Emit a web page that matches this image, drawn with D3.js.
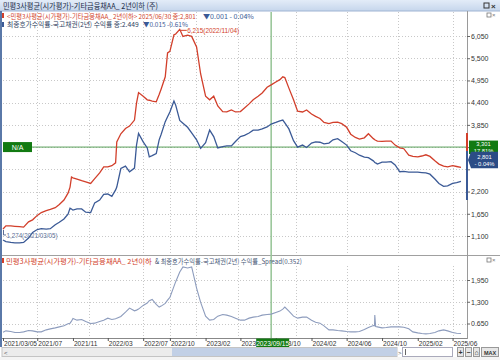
<!DOCTYPE html>
<html><head><meta charset="utf-8">
<script src="https://cdn.jsdelivr.net/npm/d3@7"></script>
<style>
html,body{margin:0;padding:0;background:#fff;}
svg{display:block;}
text{font-family:"Liberation Sans","Noto Sans CJK KR",sans-serif;}
.kr{font-family:"Noto Sans CJK KR","Liberation Sans",sans-serif;}
</style></head><body>
<svg id="c" width="500" height="360"></svg>
<script>
const dates = ["2021-03-05","2021-03-15","2021-04-01","2021-04-15","2021-05-01","2021-05-15","2021-06-01","2021-06-15","2021-07-01","2021-07-15","2021-08-01","2021-08-15","2021-09-01","2021-09-15","2021-10-01","2021-10-15","2021-10-22","2021-10-27","2021-11-01","2021-11-15","2021-12-01","2021-12-15",
"2022-01-01","2022-01-15","2022-02-01","2022-02-15","2022-03-01","2022-03-15","2022-03-28","2022-04-01","2022-04-15","2022-05-01","2022-05-15","2022-06-01","2022-06-08","2022-06-15","2022-07-01","2022-07-15","2022-07-22","2022-08-01","2022-08-15","2022-08-25","2022-09-01","2022-09-15","2022-09-23","2022-10-01","2022-10-15","2022-10-21","2022-11-04","2022-11-15","2022-12-01","2022-12-15",
"2023-01-01","2023-01-15","2023-02-01","2023-02-15","2023-03-01","2023-03-15","2023-04-01","2023-04-15","2023-05-01","2023-05-15","2023-06-01","2023-06-15","2023-07-01","2023-07-15","2023-08-01","2023-08-15","2023-09-01","2023-09-15","2023-10-01","2023-10-15","2023-10-25","2023-11-01","2023-11-15","2023-12-01","2023-12-15",
"2024-01-01","2024-01-15","2024-02-01","2024-02-15","2024-03-01","2024-03-15","2024-04-01","2024-04-15","2024-05-01","2024-05-15","2024-06-01","2024-06-15","2024-07-01","2024-07-15","2024-08-01","2024-08-15","2024-09-01","2024-09-05","2024-09-06","2024-09-09","2024-09-15","2024-10-01","2024-10-15","2024-11-01","2024-11-15","2024-12-01","2024-12-15",
"2025-01-01","2025-01-15","2025-02-01","2025-02-15","2025-03-01","2025-03-15","2025-04-01","2025-04-15","2025-05-01","2025-05-15","2025-06-01","2025-06-15","2025-06-30"];

// 민평3사평균(시가평가)-기타금융채AA_ 2년이하
const redValues = [1.274,1.35,1.35,1.34,1.33,1.32,1.45,1.50,1.61,1.68,1.73,1.76,1.80,1.88,1.99,2.16,2.31,2.56,2.54,2.51,2.47,2.44,
2.40,2.52,2.66,2.81,2.81,2.84,2.91,3.43,3.63,3.76,3.82,3.97,4.39,4.65,4.56,4.47,4.46,4.44,4.42,4.60,4.74,5.04,5.63,5.67,6.08,6.10,6.215,6.04,6.07,6.04,
5.78,5.11,4.56,4.47,4.56,4.32,4.18,4.17,4.22,4.17,4.18,4.27,4.37,4.47,4.56,4.64,4.78,4.84,4.91,4.97,5.04,5.02,4.76,4.47,4.19,
4.17,4.22,4.12,4.06,4.01,3.91,3.88,3.91,3.92,3.88,3.79,3.62,3.54,3.50,3.53,3.63,3.51,3.49,3.48,3.47,3.45,3.44,3.45,3.45,3.35,3.28,3.26,
3.10,3.07,3.06,3.08,3.11,3.07,2.96,2.88,2.83,2.81,2.84,2.82,2.801];

// 최종호가수익률-국고채권(2년) 수익률
const blueValues = [1.00,0.96,0.94,0.93,0.93,0.94,1.05,1.19,1.26,1.28,1.27,1.28,1.38,1.44,1.52,1.64,1.79,1.77,1.74,1.77,1.77,1.69,
1.68,1.92,1.99,2.13,2.14,2.08,2.24,2.31,2.77,2.83,2.69,2.78,3.35,3.64,3.43,3.28,3.06,3.09,3.14,3.48,3.62,3.93,4.05,4.17,4.44,4.34,3.96,3.89,3.79,3.65,
3.48,3.27,3.41,3.72,3.56,3.28,3.31,3.33,3.33,3.44,3.56,3.59,3.65,3.72,3.72,3.75,3.80,3.87,3.91,3.95,3.97,3.90,3.75,3.46,3.30,
3.35,3.29,3.40,3.43,3.42,3.38,3.40,3.48,3.51,3.44,3.35,3.21,3.16,3.10,3.05,3.04,2.96,2.93,2.92,2.91,2.88,2.93,2.93,2.94,2.86,2.69,2.70,
2.68,2.68,2.68,2.67,2.66,2.63,2.51,2.40,2.33,2.34,2.40,2.42,2.449];

// Spread
const spreadValues = [0.39,0.43,0.41,0.38,0.38,0.40,0.44,0.43,0.40,0.40,0.46,0.49,0.52,0.55,0.58,0.64,0.66,0.72,0.80,0.75,0.77,0.71,
0.65,0.66,0.71,0.75,0.81,0.77,0.79,0.81,0.86,0.99,1.11,1.03,1.05,1.08,1.19,1.26,1.33,1.37,1.22,1.14,1.17,1.25,1.35,1.43,1.76,1.90,2.19,2.34,2.31,2.34,
1.71,1.28,0.87,0.75,0.77,0.87,0.92,0.90,0.86,0.81,0.75,0.75,0.81,0.84,0.86,0.90,0.92,0.93,0.98,1.02,1.08,1.14,1.02,0.87,0.81,
0.84,0.84,0.75,0.69,0.66,0.58,0.46,0.46,0.44,0.43,0.41,0.40,0.40,0.41,0.47,0.53,0.59,0.58,0.90,0.56,0.55,0.52,0.53,0.55,0.55,0.55,0.54,
0.49,0.40,0.37,0.35,0.34,0.35,0.38,0.43,0.46,0.43,0.38,0.36,0.352];

const topTicks = [6.05,5.5,4.95,4.4,3.85,3.3,2.75,2.2,1.65,1.1];
const topTickLabels = ["6,050","5,500","4,950","4,400","3,850","","","2,200","1,650","1,100"];
const botTicks = [1.95,1.3,0.65];
const botTickLabels = ["1,950","1,300","0.650"];
const xTickDates = ["2021-03-05","2021-07-01","2021-11-01","2022-03-01","2022-07-01","2022-10-01","2023-02-01","2023-06-01","2023-10-01","2024-02-01","2024-06-01","2024-10-01","2025-02-01","2025-06-01"];
const xTickLabels = ["2021/03/05","2021/07","2021/11","2022/03","2022/07","2022/10","2023/02","2023/06","2023/10","2024/02","2024/06","2024/10","2025/02","2025/06"];
const gridDates = ["2021-07-01","2021-12-25","2022-07-01","2022-10-01","2022-12-29","2023-05-25","2023-12-10","2024-06-01","2024-11-25","2025-06-01"];

const titleText = "민평3사평균(시가평가)-기타금융채AA_ 2년이하 (주)";
const legend1a = "<민평3사평균(시가평가)-기타금융채AA_ 2년이하> 2025/06/30 종:2,801";
const legend1b = "▼0.001 - 0.04%";
const legend2a = "최종호가수익률-국고채권(2년) 수익률 종:2.449";
const legend2b = "▼0.015 -0.61%";
const botLegendA = "민평3사평균(시가평가)-기타금융채AA_ 2년이하";
const botLegendB = "& 최종호가수익률-국고채권(2년) 수익률_Spread(0.352)";
const crossDate = "2023-09-15", crossLabel = "2023/09/15";
const hLineValue = 3.301;
const maxLabel = "6,215(2022/11/04)", maxDate = "2022-11-04", maxValue = 6.215;
const minLabel = "1,274(2021/03/05)", minDate = "2021-03-05", minValue = 1.274;

const parse = d3.timeParse("%Y-%m-%d");
const RED = "#d23f2b", BLUE = "#3b5a96", SPR = "#8d9cbd", GRID = "#c8c8c8";
const svg = d3.select("#c");

const x = d3.scaleTime().domain([parse("2021-03-05"), parse("2025-06-30")]).range([3, 461]);
const yT = d3.scaleLinear().domain([1.10, 6.05]).range([236, 36]);
const yB = d3.scaleLinear().domain([0.65, 1.95]).range([323.5, 280]);
const AX = 467;

const rows = dates.map((d,i)=>({date:parse(d), r:redValues[i], b:blueValues[i], s:spreadValues[i]}));

// text that fills a given width without distorting its bounding box
function fitText(str, tx, ty, width, fs, fill, cls){
  const t = svg.append("text").attr("font-size",fs).attr("fill",fill).text(str);
  if (cls) t.attr("class",cls);
  const w = t.node().getComputedTextLength();
  const k = width / w;
  t.attr("font-size", fs*k).attr("transform",`translate(${tx},${ty}) scale(1,${1/k})`);
  return t;
}

// title bar
const tg = svg.append("defs").append("linearGradient").attr("id","tb").attr("x1",0).attr("x2",0).attr("y1",0).attr("y2",1);
tg.append("stop").attr("offset","0%").attr("stop-color","#e3ecf8");
tg.append("stop").attr("offset","100%").attr("stop-color","#c6d6ec");
svg.append("rect").attr("x",0).attr("y",0).attr("width",500).attr("height",11).attr("fill","url(#tb)");
svg.append("line").attr("x1",0).attr("x2",500).attr("y1",11).attr("y2",11).attr("stroke","#9fb4d3");
fitText(titleText, 3, 8.6, 155, 8.2, "#1d2c48", "kr");
svg.append("rect").attr("x",484).attr("y",3).attr("width",5).attr("height",5).attr("fill","none").attr("stroke","#333").attr("stroke-width",1);
svg.append("text").attr("x",491).attr("y",8.5).attr("font-size",8).attr("font-weight","bold").attr("fill","#333").text("×");

// left border
svg.append("rect").attr("x",0).attr("y",11).attr("width",2).attr("height",336).attr("fill","#5a78a8");

// grids top
const gT = svg.append("g");
gT.selectAll("line.h").data(topTicks).join("line").attr("x1",3).attr("x2",AX).attr("y1",d=>Math.round(yT(d))+0.5).attr("y2",d=>Math.round(yT(d))+0.5)
  .attr("stroke",GRID).attr("stroke-dasharray","1,2");
gT.selectAll("line.v").data(gridDates).join("line").attr("x1",d=>Math.round(x(parse(d)))+0.5).attr("x2",d=>Math.round(x(parse(d)))+0.5)
  .attr("y1",12).attr("y2",254).attr("stroke",GRID).attr("stroke-dasharray","1,2");
// grids bottom
const gB = svg.append("g");
gB.selectAll("line.h").data(botTicks).join("line").attr("x1",3).attr("x2",AX).attr("y1",d=>Math.round(yB(d))+0.5).attr("y2",d=>Math.round(yB(d))+0.5)
  .attr("stroke",GRID).attr("stroke-dasharray","1,2");
gB.selectAll("line.v").data(gridDates).join("line").attr("x1",d=>Math.round(x(parse(d)))+0.5).attr("x2",d=>Math.round(x(parse(d)))+0.5)
  .attr("y1",266).attr("y2",338).attr("stroke",GRID).attr("stroke-dasharray","1,2");

// panel separator
svg.append("line").attr("x1",2).attr("x2",500).attr("y1",255.5).attr("y2",255.5).attr("stroke","#a0a0a0");
// right axis line
svg.append("line").attr("x1",AX+0.5).attr("x2",AX+0.5).attr("y1",11).attr("y2",339).attr("stroke","#9a9a9a");

// crosshair
svg.append("line").attr("x1",x(parse(crossDate))).attr("x2",x(parse(crossDate))).attr("y1",12).attr("y2",338).attr("stroke","#9cc79c").attr("stroke-width",1.6);
svg.append("line").attr("x1",3).attr("x2",AX).attr("y1",yT(hLineValue)).attr("y2",yT(hLineValue)).attr("stroke","#5aa05a").attr("stroke-width",1);

// lines
const lineR = d3.line().x(d=>x(d.date)).y(d=>yT(d.r));
const lineBl = d3.line().x(d=>x(d.date)).y(d=>yT(d.b));
const lineS = d3.line().x(d=>x(d.date)).y(d=>yB(d.s));
svg.append("path").datum(rows).attr("d",lineR).attr("fill","none").attr("stroke",RED).attr("stroke-width",1.3);
svg.append("path").datum(rows).attr("d",lineBl).attr("fill","none").attr("stroke",BLUE).attr("stroke-width",1.3);
svg.append("path").datum(rows).attr("d",lineS).attr("fill","none").attr("stroke",SPR).attr("stroke-width",1.1);

// right axes
const axT = svg.append("g").attr("transform",`translate(${AX},0)`)
  .call(d3.axisRight(yT).tickValues(topTicks).tickFormat((d,i)=>topTickLabels[i]).tickSize(3).tickPadding(1));
const axB = svg.append("g").attr("transform",`translate(${AX},0)`)
  .call(d3.axisRight(yB).tickValues(botTicks).tickFormat((d,i)=>botTickLabels[i]).tickSize(3).tickPadding(1));
[axT,axB].forEach(a=>{
  a.select(".domain").remove();
  a.selectAll(".tick line").attr("stroke","#666");
  a.selectAll(".tick text").attr("font-size",7).attr("fill","#333").attr("font-family","Liberation Sans");
});

// bottom x axis
svg.append("line").attr("x1",2).attr("x2",AX).attr("y1",338.5).attr("y2",338.5).attr("stroke","#888");
const axX = svg.append("g").attr("transform","translate(0,338)")
  .call(d3.axisBottom(x).tickValues(xTickDates.map(parse)).tickFormat((d,i)=>xTickLabels[i]).tickSize(3).tickPadding(1));
axX.select(".domain").remove();
axX.selectAll(".tick line").attr("stroke","#555");
axX.selectAll(".tick text").attr("text-anchor","start").attr("x",0.5).attr("dy","0.62em").attr("font-size",6.6).attr("fill","#333").attr("font-family","Liberation Sans");

// date highlight
const cx = x(parse(crossDate));
svg.append("rect").attr("x",cx-15).attr("y",338.5).attr("width",33).attr("height",8.5).attr("fill","#127a12");
svg.append("text").attr("x",cx+1.5).attr("y",345.5).attr("text-anchor","middle").attr("font-size",6.6).attr("fill","#fff").text(crossLabel);

// N/A box
svg.append("rect").attr("x",3).attr("y",yT(hLineValue)-5).attr("width",29).attr("height",10).attr("fill","#127a12");
svg.append("text").attr("x",17.5).attr("y",yT(hLineValue)+2.6).attr("text-anchor","middle").attr("font-size",7).attr("fill","#fff").text("N/A");

// right markers
svg.append("rect").attr("x",AX-1).attr("y",133).attr("width",2).attr("height",18).attr("fill",RED);
svg.append("rect").attr("x",AX-1).attr("y",151).attr("width",2).attr("height",49).attr("fill",BLUE);
// green value box
const gy = yT(hLineValue);
svg.append("rect").attr("x",AX+2).attr("y",gy-6.5).attr("width",29).attr("height",13.5).attr("fill","#127a12");
svg.append("text").attr("x",AX+16.5).attr("y",gy-0.6).attr("text-anchor","middle").attr("font-size",5.8).attr("fill","#fff").text("3,301");
svg.append("text").attr("x",AX+16.5).attr("y",gy+5.6).attr("text-anchor","middle").attr("font-size",5.8).attr("fill","#fff").text("17.81%");
// blue value box (pentagon)
const by = 160;
svg.append("path").attr("d",`M${AX+1},${by} L${AX+4},${by-8.3} L498,${by-8.3} L498,${by+8.3} L${AX+4},${by+8.3} Z`).attr("fill","#2b4c86");
svg.append("text").attr("x",AX+17.5).attr("y",by-1.3).attr("text-anchor","middle").attr("font-size",5.8).attr("fill","#fff").text("2,801");
svg.append("text").attr("x",AX+17.5).attr("y",by+5.8).attr("text-anchor","middle").attr("font-size",5.8).attr("fill","#fff").text("- 0.04%");

// max / min labels
const mx = x(parse(maxDate)), my = yT(maxValue);
svg.append("line").attr("x1",mx+1).attr("x2",mx+7).attr("y1",my+1).attr("y2",my+1).attr("stroke",RED);
fitText(maxLabel, mx+7.5, my+3.8, 52, 7, RED);
const nx = x(parse(minDate)), ny = yT(minValue);
svg.append("path").attr("d",`M${nx+0.5},${ny+1} L${nx+0.5},${ny+6} L${nx+3},${ny+6}`).attr("fill","none").attr("stroke","#5d6f96");
fitText(minLabel, nx+3.5, ny+8.6, 51, 7, "#5d6f96");

// legends top
svg.append("rect").attr("x",2).attr("y",13).attr("width",2).attr("height",5).attr("fill",RED);
fitText(legend1a, 7, 18.6, 189, 6.8, RED, "kr");
fitText(legend1b, 203, 18.6, 51, 6.8, BLUE, "kr");
svg.append("rect").attr("x",2).attr("y",22).attr("width",2).attr("height",5).attr("fill",BLUE);
fitText(legend2a, 7, 27.4, 132, 6.8, "#2f3f62", "kr");
fitText(legend2b, 143, 27.4, 45, 6.8, BLUE, "kr");

// small icons
function icon(yy){
  svg.append("rect").attr("x",487).attr("y",yy).attr("width",4).attr("height",4).attr("fill","#fff").attr("stroke","#777").attr("stroke-width",0.8);
  svg.append("text").attr("x",492).attr("y",yy+4.3).attr("font-size",6).attr("fill","#777").text("×");
}
icon(13); icon(258);

// legend bottom
svg.append("rect").attr("x",2).attr("y",258).attr("width",2).attr("height",5).attr("fill",RED);
fitText(botLegendA, 6, 263.5, 146, 7, RED, "kr");
fitText(botLegendB, 155, 263.5, 147, 7, "#4a5a78", "kr");

// scrollbar
svg.append("rect").attr("x",2).attr("y",347.5).attr("width",395).attr("height",9).attr("fill","#ececec").attr("stroke","#c4c4c4");
svg.append("rect").attr("x",172).attr("y",348).attr("width",225).attr("height",8).attr("fill","#c2d0e6");
svg.append("text").attr("x",4).attr("y",354.5).attr("font-size",6).attr("fill","#555").text("<");
svg.append("text").attr("x",398).attr("y",354.5).attr("font-size",6).attr("fill","#555").text(">");
svg.append("rect").attr("x",402.5).attr("y",347.5).attr("width",50).attr("height",9).attr("fill","#fff").attr("stroke","#aab");
svg.append("line").attr("x1",405.5).attr("x2",405.5).attr("y1",349).attr("y2",355).attr("stroke","#666");
[["+",457,6],["−",465,6],["⌂",473,6],["MAX",481,17]].forEach(([t,bx,w])=>{
  svg.append("rect").attr("x",bx+0.5).attr("y",347.5).attr("width",w).attr("height",9).attr("fill","#e6e6e6").attr("stroke","#999");
  svg.append("text").attr("x",bx+0.5+w/2).attr("y",354.5).attr("text-anchor","middle").attr("font-size",t==="MAX"?5.5:7).attr("font-weight","bold").attr("fill","#333").text(t);
});
svg.append("rect").attr("x",0).attr("y",357).attr("width",500).attr("height",3).attr("fill","#f4f4f4");
</script>
</body></html>
